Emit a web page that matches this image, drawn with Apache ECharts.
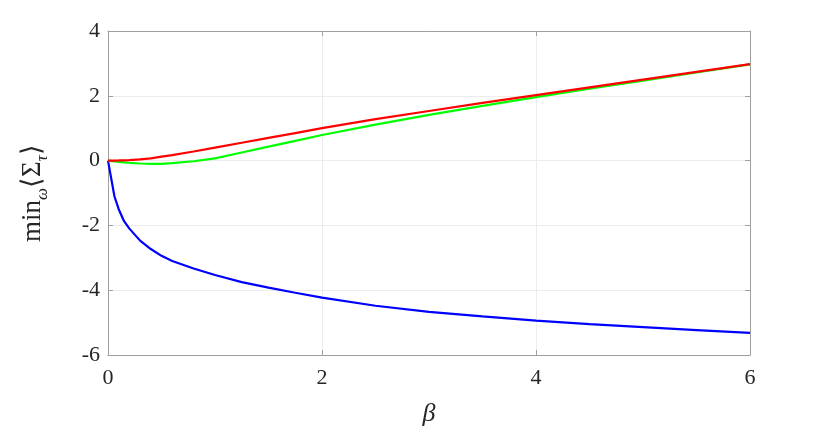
<!DOCTYPE html>
<html>
<head>
<meta charset="utf-8">
<script src="https://cdn.jsdelivr.net/npm/echarts@6/dist/echarts.min.js"></script>
<style>
  html, body { margin: 0; padding: 0; background: #fff; }
  #chart { width: 830px; height: 435px; }
</style>
</head>
<body>
<div id="chart"></div>
<script>
// beta values (x axis)
var beta = [0, 0.06, 0.1, 0.15, 0.2, 0.3, 0.4, 0.5, 0.6, 0.8, 1, 1.25, 1.5, 1.75, 2, 2.5, 3, 3.5, 4, 4.5, 5, 5.5, 6];
// three curves
var redVals   = [0, 0.002, 0.005, 0.01, 0.015, 0.035, 0.07, 0.12, 0.17, 0.28, 0.40, 0.55, 0.70, 0.85, 1.0, 1.28, 1.53, 1.78, 2.02, 2.26, 2.5, 2.74, 2.98];
var greenVals = [0, -0.025, -0.04, -0.055, -0.07, -0.09, -0.1, -0.1, -0.08, -0.02, 0.07, 0.25, 0.43, 0.61, 0.79, 1.11, 1.41, 1.69, 1.96, 2.22, 2.47, 2.72, 2.97];
var blueVals  = [0, -1.1, -1.5, -1.87, -2.1, -2.47, -2.73, -2.94, -3.1, -3.33, -3.53, -3.75, -3.92, -4.08, -4.23, -4.48, -4.67, -4.81, -4.94, -5.05, -5.14, -5.23, -5.32];

var xTicks = [0, 2, 4, 6];
var yTicks = [-6, -4, -2, 0, 2, 4];

function pairs(ys) {
    return beta.map(function (b, i) { return [b, ys[i]]; });
}

var font = 'Liberation Serif';
var frame = '#a0a0a0';

var chart = echarts.init(document.getElementById('chart'));

var baseX = {
    type: 'value', min: xTicks[0], max: xTicks[xTicks.length - 1], interval: 2
};
var baseY = {
    type: 'value', min: yTicks[0], max: yTicks[yTicks.length - 1], interval: 2
};

var option = {
    animation: false,
    backgroundColor: '#fff',
    grid: { left: 108, right: 80, top: 31, bottom: 80 },
    xAxis: [
        Object.assign({}, baseX, {
            position: 'bottom',
            name: 'β',
            nameLocation: 'middle',
            nameGap: 46,
            nameTextStyle: { fontFamily: font, fontStyle: 'italic', fontSize: 26, color: '#262626' },
            axisLine: { onZero: false, lineStyle: { color: frame, width: 1 } },
            axisTick: { inside: true, length: 5, lineStyle: { color: frame } },
            axisLabel: { fontFamily: font, fontSize: 22, color: '#262626', margin: 12 },
            splitLine: { show: true, lineStyle: { color: '#ececec', width: 1 } }
        }),
        Object.assign({}, baseX, {
            position: 'top',
            axisLine: { onZero: false, lineStyle: { color: frame, width: 1 } },
            axisTick: { inside: true, length: 5, lineStyle: { color: frame } },
            axisLabel: { show: false },
            splitLine: { show: false }
        })
    ],
    yAxis: [
        Object.assign({}, baseY, {
            position: 'left',
            name: '{a|min}{s|ω}{a|⟨Σ}{s|τ}{a|⟩}',
            nameLocation: 'middle',
            nameGap: 62,
            nameRotate: 90,
            nameTextStyle: {
                rich: {
                    a: { fontFamily: font, fontSize: 27, color: '#262626', verticalAlign: 'bottom' },
                    s: { fontFamily: font, fontSize: 17, fontStyle: 'italic', color: '#262626', verticalAlign: 'bottom', padding: [0, 0, -5, 0] }
                }
            },
            axisLine: { onZero: false, lineStyle: { color: frame, width: 1 } },
            axisTick: { inside: true, length: 5, lineStyle: { color: frame } },
            axisLabel: { fontFamily: font, fontSize: 22, color: '#262626', margin: 8 },
            splitLine: { show: true, lineStyle: { color: '#ececec', width: 1 } }
        }),
        Object.assign({}, baseY, {
            position: 'right',
            axisLine: { onZero: false, lineStyle: { color: frame, width: 1 } },
            axisTick: { inside: true, length: 5, lineStyle: { color: frame } },
            axisLabel: { show: false },
            splitLine: { show: false }
        })
    ],
    series: [
        {
            type: 'line', data: pairs(blueVals), showSymbol: false, smooth: false,
            lineStyle: { color: '#0000ff', width: 2.2 }
        },
        {
            type: 'line', data: pairs(greenVals), showSymbol: false, smooth: false,
            lineStyle: { color: '#00ff00', width: 2.2 }
        },
        {
            type: 'line', data: pairs(redVals), showSymbol: false, smooth: false,
            lineStyle: { color: '#ff0000', width: 2.2 }
        }
    ]
};

chart.setOption(option);
</script>
</body>
</html>
